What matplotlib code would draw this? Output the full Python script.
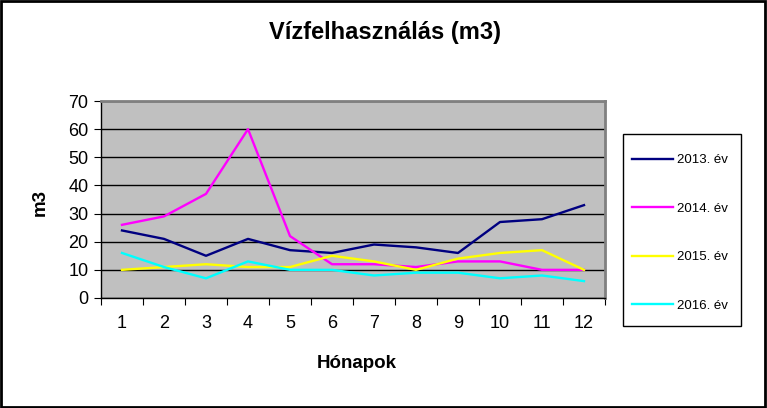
import numpy as np
import matplotlib.pyplot as plt

plt.rcParams['font.family'] = ['Liberation Sans', 'DejaVu Sans']

# adatok
honapok = [1, 2, 3, 4, 5, 6, 7, 8, 9, 10, 11, 12]
ev_2013 = [24, 21, 15, 21, 17, 16, 19, 18, 16, 27, 28, 33]
ev_2014 = [26, 29, 37, 60, 22, 12, 12, 11, 13, 13, 10, 10]
ev_2015 = [10, 11, 12, 11, 11, 15, 13, 10, 14, 16, 17, 10]
ev_2016 = [16, 11, 7, 13, 10, 10, 8, 9, 9, 7, 8, 6]

sorozatok = [
    ("2013. év", ev_2013, "#000080"),
    ("2014. év", ev_2014, "#FF00FF"),
    ("2015. év", ev_2015, "#FFFF00"),
    ("2016. év", ev_2016, "#00FFFF"),
]

fig = plt.figure(figsize=(7.67, 4.08), dpi=100)
fig.patch.set_facecolor("white")
fig.patches.append(plt.Rectangle((0.001, 0.002), 0.997, 0.996, transform=fig.transFigure,
                                 fill=False, edgecolor="black", linewidth=2))

ax = fig.add_axes([101 / 767, 1 - 298 / 408, 504 / 767, 197 / 408])
ax.set_facecolor("#C0C0C0")

x = np.arange(len(honapok))
for nev, ertekek, szin in sorozatok:
    ax.plot(x, ertekek, color=szin, linewidth=1.7, label=nev)

ax.set_xlim(-0.5, len(honapok) - 0.5)
ax.set_ylim(0, 70)
ax.set_yticks(range(0, 71, 10))
ax.yaxis.grid(True, color="black", linewidth=1)
ax.set_axisbelow(True)

# kategória tengely: osztásjelek a kategóriák között
ax.set_xticks(np.arange(-0.5, len(honapok), 1))
ax.set_xticklabels([])
ax.set_xticks(x, minor=True)
ax.set_xticklabels([str(h) for h in honapok], minor=True, fontsize=13)
ax.tick_params(axis="x", which="minor", length=0, pad=12)
ax.tick_params(axis="x", which="major", length=5, direction="out", color="black")
ax.tick_params(axis="y", length=5, labelsize=13, pad=4)

ax.spines["top"].set_color("#808080")
ax.spines["right"].set_color("#808080")
ax.spines["top"].set_linewidth(2)
ax.spines["right"].set_linewidth(2)
ax.spines["left"].set_linewidth(1)
ax.spines["bottom"].set_linewidth(1)

fig.text(385 / 767, 1 - 33 / 408, "Vízfelhasználás (m3)", ha="center", va="center",
         fontsize=17, fontweight="bold")
fig.text(357 / 767, 1 - 363 / 408, "Hónapok", ha="center", va="center",
         fontsize=13.5, fontweight="bold")
fig.text(40 / 767, 1 - 203 / 408, "m3", ha="center", va="center", rotation=90,
         fontsize=13.5, fontweight="bold")

# jelmagyarázat keret
fig.patches.append(plt.Rectangle((623 / 767, 1 - 326 / 408), 118 / 767, 192 / 408,
                                 transform=fig.transFigure, fill=False,
                                 edgecolor="black", linewidth=1))
leg = fig.legend(loc="upper left", bbox_to_anchor=(632 / 767, 1 - 154 / 408),
                 bbox_transform=fig.transFigure, fontsize=9.5, frameon=False,
                 labelspacing=2.75, handlelength=3.1, handletextpad=0.3,
                 borderpad=0, borderaxespad=0)

fig.savefig("out.png", dpi=100)
